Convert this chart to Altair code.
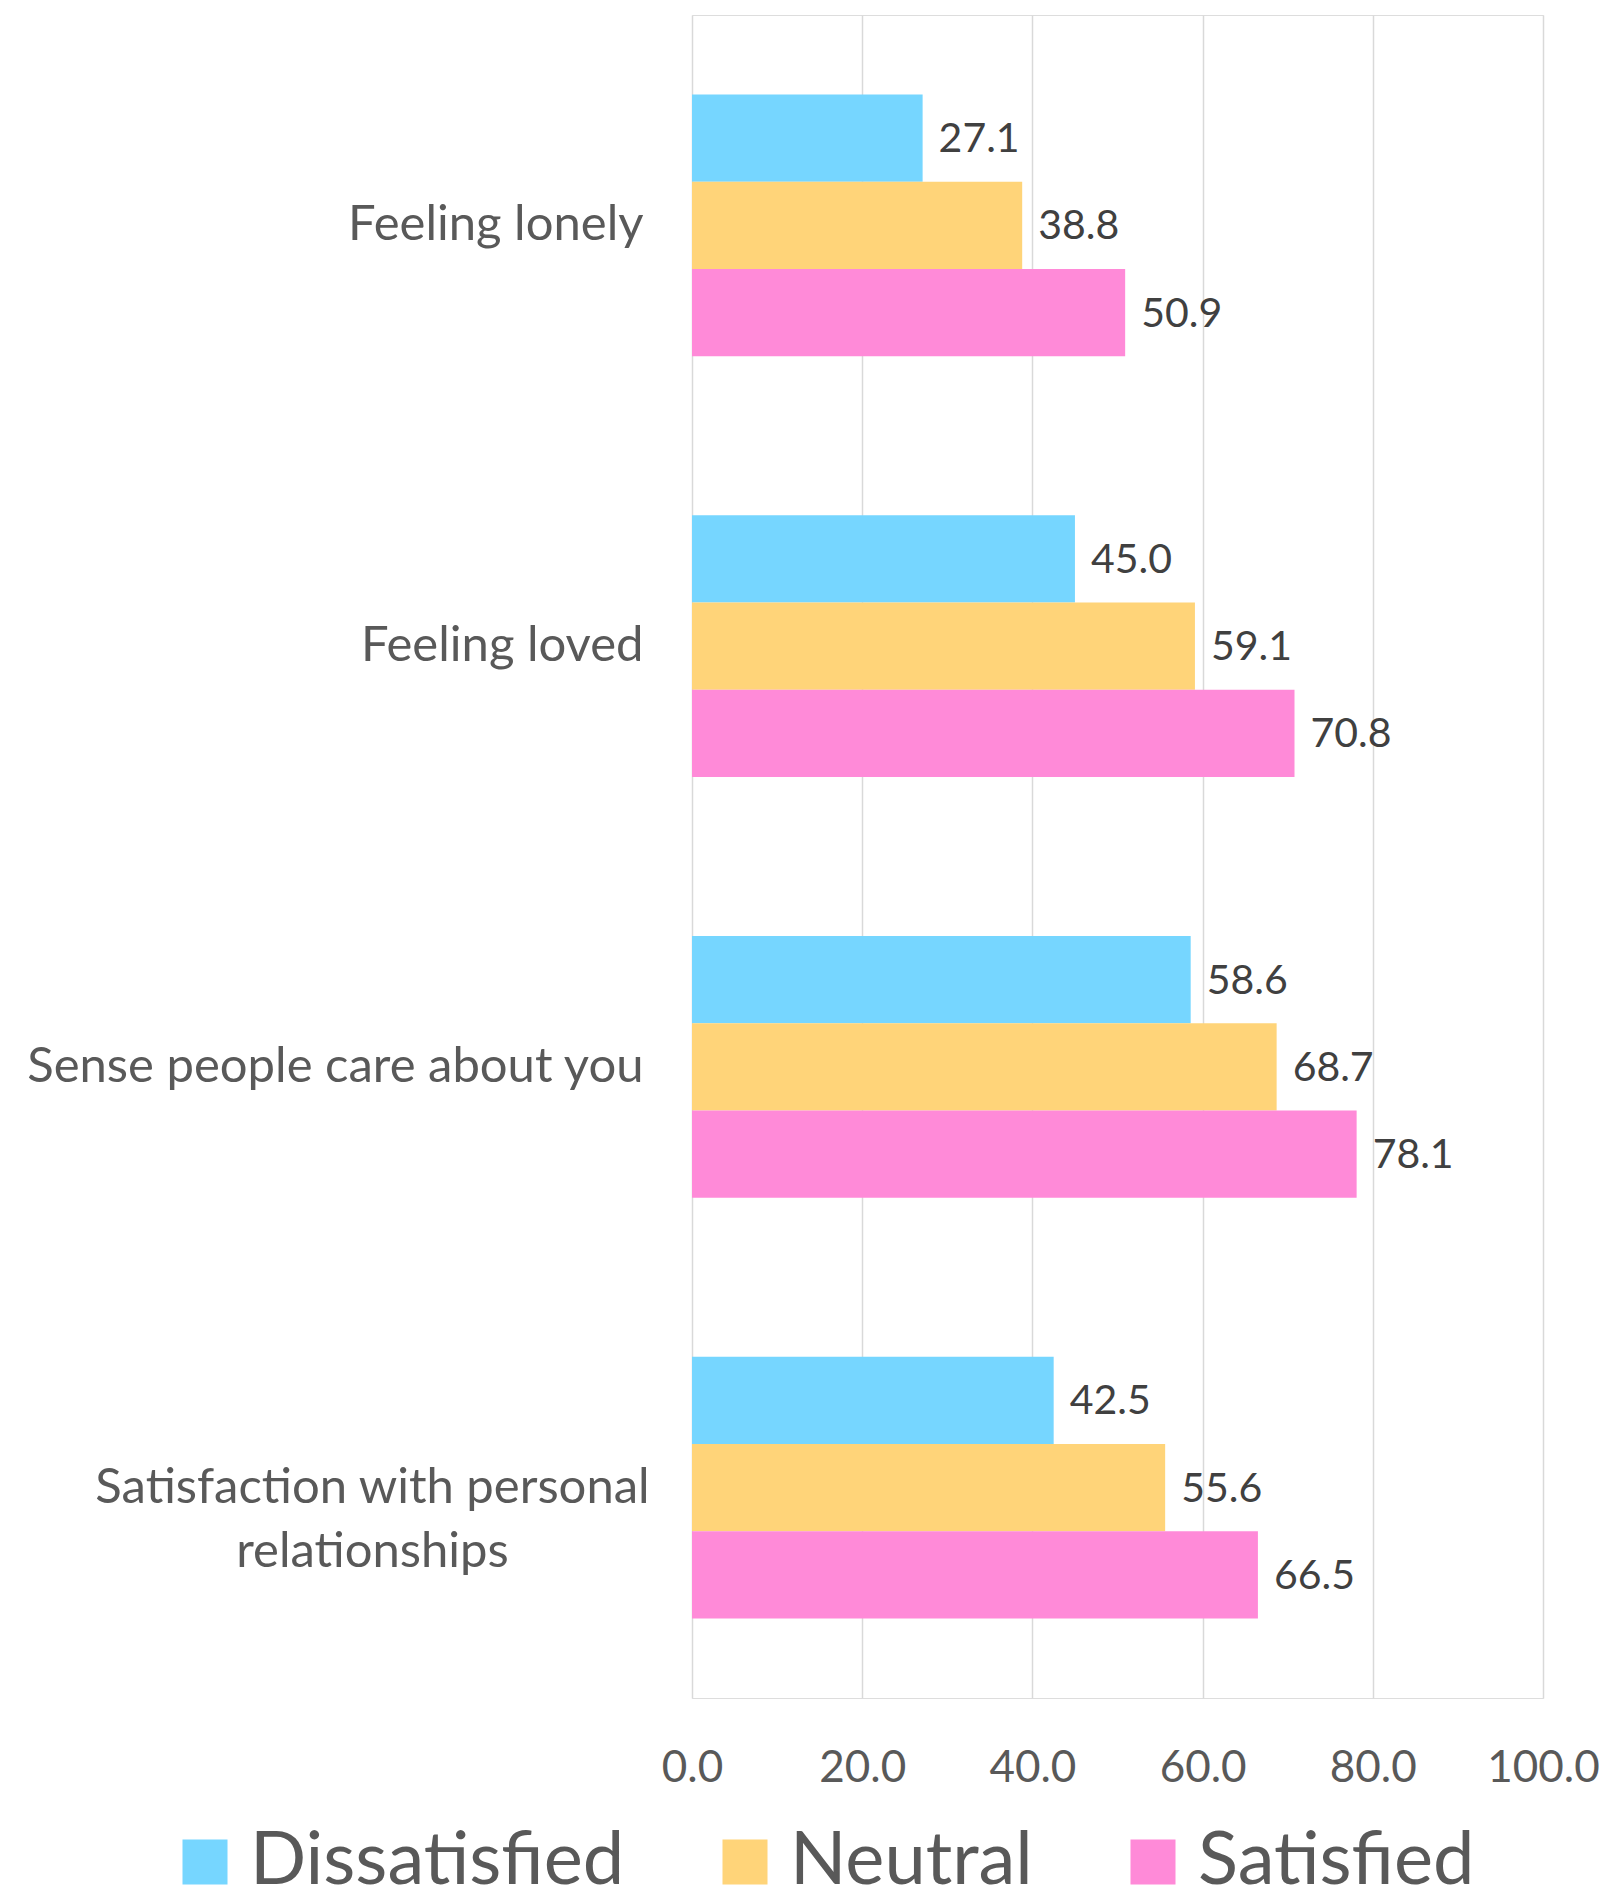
import altair as alt
import pandas as pd

categories = ["Feeling lonely", "Feeling loved", "Sense people care about you",
              "Satisfaction with personal|relationships"]
groups = ["Dissatisfied", "Neutral", "Satisfied"]
dissatisfied = [27.1, 45.0, 58.6, 42.5]
neutral = [38.8, 59.1, 68.7, 55.6]
satisfied = [50.9, 70.8, 78.1, 66.5]
colors = ["#76D6FF", "#FFD479", "#FF8AD8"]
x_ticks = [0, 20, 40, 60, 80, 100]

rows = []
for series, vals in zip(groups, [dissatisfied, neutral, satisfied]):
    for c, v in zip(categories, vals):
        rows.append({"category": c, "group": series, "value": v})
df = pd.DataFrame(rows)

FONT = "Lato"

y_enc = alt.Y(
    "category:N",
    sort=categories,
    title=None,
    scale=alt.Scale(paddingInner=0.378, paddingOuter=0.189),
    axis=alt.Axis(
        domain=False,
        ticks=False,
        labelExpr="split(datum.label, '|')",
        labelFont=FONT,
        labelFontSize=49,
        labelColor="#595959",
        labelLineHeight=64,
        labelBaseline="middle",
        labelAlign=alt.condition("indexof(datum.value, '|') >= 0", alt.value("center"), alt.value("right")),
        labelPadding=alt.condition("indexof(datum.value, '|') >= 0", alt.value(320), alt.value(49)),
        labelLimit=1000,
    ),
)
yoff_enc = alt.YOffset("group:N", sort=groups, scale=alt.Scale(paddingInner=0, paddingOuter=0))

x_enc = alt.X(
    "value:Q",
    title=None,
    scale=alt.Scale(domain=[0, 100], nice=False),
    axis=alt.Axis(
        values=x_ticks,
        format=".1f",
        domain=False,
        ticks=False,
        grid=True,
        gridColor="#D9D9D9",
        gridWidth=1.5,
        labelFont=FONT,
        labelFontSize=44,
        labelColor="#595959",
        labelPadding=70,
        labelBaseline="middle",
        labelFlush=False,
    ),
)

bars = alt.Chart(df).mark_bar(strokeWidth=0).encode(
    x=x_enc,
    y=y_enc,
    yOffset=yoff_enc,
    color=alt.Color(
        "group:N",
        sort=groups,
        scale=alt.Scale(domain=groups, range=colors),
        legend=alt.Legend(
            title=None,
            orient="none",
            legendX=-524,
            legendY=1810,
            direction="horizontal",
            symbolType="square",
            symbolSize=2025,
            symbolStrokeWidth=0,
            symbolOpacity=1,
            labelFont=FONT,
            labelFontSize=74,
            labelColor="#595959",
            labelOffset=8,
            columnPadding=83,
            labelLimit=1000,
            padding=0,
        ),
    ),
)

labels = alt.Chart(df).mark_text(
    align="left", baseline="middle", dx=16, dy=2, font=FONT, fontSize=41, color="#404040"
).encode(
    x="value:Q",
    y=alt.Y("category:N", sort=categories),
    yOffset=alt.YOffset("group:N", sort=groups),
    text=alt.Text("value:Q", format=".1f"),
)

chart = (
    alt.layer(bars, labels)
    .properties(
        width=851,
        height=1683,
        autosize=alt.AutoSizeParams(type="none"),
        padding={"left": 684, "top": 7, "right": 56, "bottom": 189},
    )
    .configure_view(strokeWidth=0)
    .configure(background="white")
)

chart.save("out.html", embed_options={"renderer": "svg", "actions": False})
